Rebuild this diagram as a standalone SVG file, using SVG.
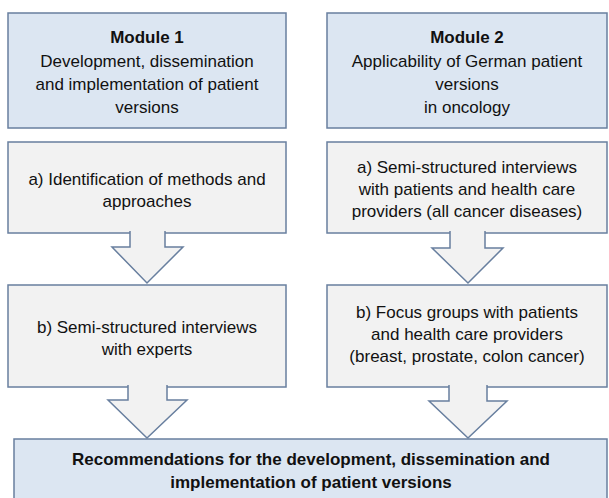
<svg xmlns="http://www.w3.org/2000/svg" width="609" height="498" viewBox="0 0 609 498">
<style>
.blue{fill:#dce6f2;stroke:#687f9f;stroke-width:1.5}
.gray{fill:#f2f2f2;stroke:#687f9f;stroke-width:1.5}
.arr{fill:#f2f2f2;stroke:#687f9f;stroke-width:1.5;stroke-linejoin:miter}
text{font-family:"Liberation Sans",Arial,sans-serif;font-size:17px;fill:#111;text-anchor:middle}
.b{font-weight:bold}
</style>
<rect width="609" height="498" fill="#fff"/>
<g id="module1">
<rect class="blue" x="8" y="13" width="278" height="115"/>
<text x="147" y="43" class="b">Module 1</text>
<text x="147" y="67">Development, dissemination</text>
<text x="147" y="90">and implementation of patient</text>
<text x="147" y="113">versions</text>
</g>
<g id="module2">
<rect class="blue" x="327" y="13" width="280" height="115"/>
<text x="467" y="43" class="b">Module 2</text>
<text x="467" y="67">Applicability of German patient</text>
<text x="467" y="90">versions</text>
<text x="467" y="113">in oncology</text>
</g>
<g id="m1a">
<rect class="gray" x="8" y="142" width="278" height="91"/>
<text x="147" y="185">a) Identification of methods and</text>
<text x="147" y="207">approaches</text>
</g>
<g id="m2a">
<rect class="gray" x="327" y="142" width="280" height="91"/>
<text x="467" y="173">a) Semi-structured interviews</text>
<text x="467" y="195">with patients and health care</text>
<text x="467" y="217">providers (all cancer diseases)</text>
</g>
<g id="m1b">
<rect class="gray" x="8" y="285" width="278" height="102"/>
<text x="147" y="333">b) Semi-structured interviews</text>
<text x="147" y="355">with experts</text>
</g>
<g id="m2b">
<rect class="gray" x="327" y="285" width="280" height="102"/>
<text x="467" y="318">b) Focus groups with patients</text>
<text x="467" y="340">and health care providers</text>
<text x="467" y="362">(breast, prostate, colon cancer)</text>
</g>
<g id="result">
<rect class="blue" x="14" y="439" width="593" height="75"/>
<text x="311" y="465" class="b">Recommendations for the development, dissemination and</text>
<text x="311" y="488" class="b">implementation of patient versions</text>
</g>
<g id="connectors">
<path class="arr" d="M130,231 L130,247 L112,247 L147,283 L183,247 L165,247 L165,231"/>
<path class="arr" d="M450,231 L450,248 L432,248 L468,283 L503,248 L485,248 L485,231"/>
<path class="arr" d="M128,385 L128,400 L108,400 L147,438 L187,400 L167,400 L167,385"/>
<path class="arr" d="M449,385 L449,401 L429,401 L468,438 L507,401 L487,401 L487,385"/>
</g>
</svg>
